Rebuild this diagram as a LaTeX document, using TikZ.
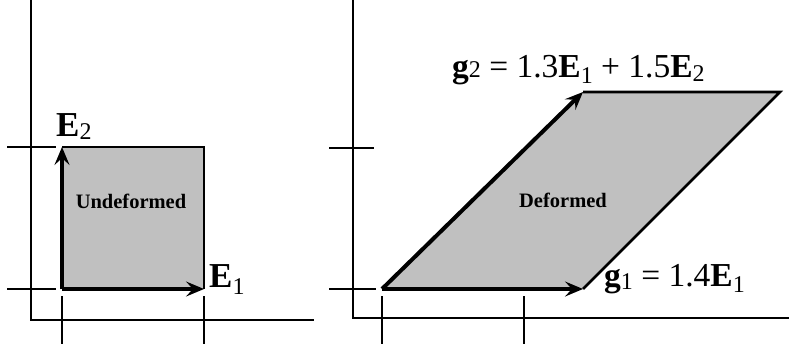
\documentclass[tikz,border=0pt]{standalone}
\usepackage{fontspec}
\setmainfont{Liberation Serif}
\usetikzlibrary{arrows.meta}
\definecolor{fillg}{RGB}{192,192,192}
\newcommand\sbs[2][-0.25em]{\raisebox{#1}{\fontsize{24}{24}\selectfont #2}}
\begin{document}
\begin{tikzpicture}[x=1pt,y=-1pt,
  axisline/.style={line width=2.2pt, line cap=rect},
  outline/.style={line width=2.6pt, line join=miter},
  vec/.style={line width=4pt, -{Stealth[length=18pt,width=15pt,inset=7pt]}},
  lbl/.style={anchor=base west, inner sep=0pt, font=\fontsize{33.5}{33.5}\selectfont},
  elbl/.style={anchor=base west, inner sep=0pt, font=\fontsize{35}{35}\selectfont},
  tag/.style={inner sep=0pt, font=\fontsize{20.5}{20.5}\selectfont\bfseries}]
\useasboundingbox (0,0) rectangle (789,346);

% ---------- left: undeformed ----------
\coordinate (LO) at (31,0);
\coordinate (LC) at (31,320);
\coordinate (LE) at (313,320);
\draw[axisline] (LO) -- (LC) -- (LE);
\coordinate (lt1a) at (8,147);  \coordinate (lt1b) at (55,147);
\coordinate (lt2a) at (8,289);  \coordinate (lt2b) at (55,289);
\coordinate (lt3a) at (62,297); \coordinate (lt3b) at (62,343);
\coordinate (lt4a) at (204,297);\coordinate (lt4b) at (204,343);
\draw[axisline] (lt1a) -- (lt1b);
\draw[axisline] (lt2a) -- (lt2b);
\draw[axisline] (lt3a) -- (lt3b);
\draw[axisline] (lt4a) -- (lt4b);

\coordinate (A) at (62,289);
\coordinate (B) at (204,289);
\coordinate (C) at (204,147);
\coordinate (D) at (62,147);
\fill[fillg] (A) -- (B) -- (C) -- (D) -- cycle;
\draw[outline] (B) -- (C) -- (D);
\draw[vec] (A) -- (B);
\draw[vec] (A) -- (D);
\node[tag] (und) at (131,201) {Undeformed};
\node[elbl] (E2) at (56,136) {\textbf{E}\sbs[-0.1em]{2}};
\node[elbl] (E1) at (209,287) {\textbf{E}\sbs[-0.2em]{1}};

% ---------- right: deformed ----------
\coordinate (RO) at (353,0);
\coordinate (RC) at (353,318);
\coordinate (RE) at (789,318);
\draw[axisline] (RO) -- (RC) -- (RE);
\coordinate (rt1a) at (330,148); \coordinate (rt1b) at (373,148);
\coordinate (rt2a) at (330,289); \coordinate (rt2b) at (375,289);
\coordinate (rt3a) at (382,297); \coordinate (rt3b) at (382,343);
\coordinate (rt4a) at (524,297); \coordinate (rt4b) at (524,343);
\draw[axisline] (rt1a) -- (rt1b);
\draw[axisline] (rt2a) -- (rt2b);
\draw[axisline] (rt3a) -- (rt3b);
\draw[axisline] (rt4a) -- (rt4b);

\coordinate (P) at (382,289);
\coordinate (Q) at (583,289);
\coordinate (R) at (780,92);
\coordinate (S) at (583,92);
\fill[fillg] (P) -- (Q) -- (R) -- (S) -- cycle;
\draw[outline] (Q) -- (R) -- (S);
\draw[vec] (P) -- (Q);
\draw[vec] (P) -- (S);
\node[tag] (def) at (563,200) {Deformed};
\node[lbl] (g2) at (452,77) {\textbf{g}\sbs[0em]{2} = 1.3\textbf{E}\sbs[-0.2em]{1} + 1.5\textbf{E}\sbs[-0.12em]{2}};
\node[lbl] (g1) at (604,286) {\textbf{g}\sbs[-0.1em]{1} = 1.4\textbf{E}\sbs[-0.2em]{1}};
\end{tikzpicture}
\end{document}
